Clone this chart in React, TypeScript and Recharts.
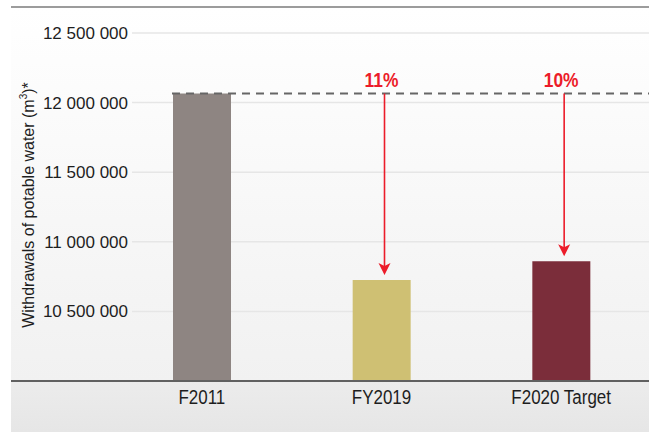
import { Bar, BarChart, CartesianGrid, Cell, ReferenceLine, XAxis, YAxis } from "recharts";

const categories = ["F2011", "FY2019", "F2020 Target"];
const withdrawals = [12065000, 10725000, 10860000];
const reductionLabels = ["", "11%", "10%"];
const barColors = ["#8e8582", "#cfc073", "#7b2d3a"];
const yTicks = [10500000, 11000000, 11500000, 12000000, 12500000];

const data = categories.map((name, i) => ({ name, value: withdrawals[i] }));
const baseline = withdrawals[0];

const sans = "'Liberation Sans', Arial, sans-serif";
const RED = "#ec1c2a";
const BAR_SIZE = 58;
const NARROW = 0.87;

const fmt = (v: number) => String(v).replace(/\B(?=(\d{3})+(?!\d))/g, " ");

function YTick(p: any) {
  return (
    <text x={p.x + 117} y={p.y} dy={6} textAnchor="end" fontFamily={sans} fontSize={17} fill="#1e1e1e">
      {fmt(p.payload.value)}
    </text>
  );
}

function XTick(p: any) {
  return (
    <g transform={`translate(${p.x},${p.y}) scale(${NARROW},1)`}>
      <text x={0} y={0} dy={16} textAnchor="middle" fontFamily={sans} fontSize={19.5} fill="#1e1e1e">
        {p.payload.value}
      </text>
    </g>
  );
}

function GridLine(p: any) {
  return <line key={p.key} x1={p.x1 + 121} x2={p.x2} y1={p.y1} y2={p.y2} stroke="#e6e6e6" strokeWidth={1.5} />;
}

function Arrow(label: string) {
  return (p: any) => {
    const x = p.x1 + 3;
    const tip = p.y2 - 5;
    return (
      <g>
        <g transform={`translate(${x - 3},${p.y1 - 7}) scale(${NARROW},1)`}>
          <text x={0} y={0} textAnchor="middle" fontFamily={sans} fontWeight="bold" fontSize={20} fill={RED}>
            {label}
          </text>
        </g>
        <line x1={x} x2={x} y1={p.y1} y2={tip - 8} stroke={RED} strokeWidth={1.6} />
        <path d={`M${x - 6},${tip - 12} L${x},${tip - 9} L${x + 6},${tip - 12} L${x},${tip} Z`} fill={RED} />
      </g>
    );
  };
}

function Dashed(p: any) {
  return (
    <line x1={p.x1 + 161} x2={p.x2} y1={p.y1} y2={p.y2} stroke="#666666" strokeWidth={2} strokeDasharray="8 6" />
  );
}

export default function App() {
  return (
    <div style={{ position: "absolute", left: 0, top: 0, width: 649, height: 432, overflow: "hidden", background: "#fff" }}>
      <div
        style={{
          position: "absolute",
          left: 11,
          top: 7,
          width: 638,
          height: 425,
          background: "linear-gradient(to bottom, #ffffff 0%, #f1f1f1 88%, #ececec 88%, #e6e6e6 100%)",
        }}
      />
      <div style={{ position: "absolute", left: 11, top: 6, width: 638, height: 1.5, background: "#9c9c9c" }} />
      <div style={{ position: "absolute", left: 0, top: 0 }}>
        <BarChart width={660} height={432} data={data} margin={{ top: 33, right: 9, left: 10, bottom: 21 }}>
          <CartesianGrid vertical={false} horizontal={GridLine} />
          <XAxis
            dataKey="name"
            height={30}
            padding={{ left: 101, right: 0 }}
            tickLine={false}
            tickSize={0}
            tickMargin={7}
            axisLine={{ stroke: "#616161", strokeWidth: 2 }}
            tick={XTick}
          />
          <YAxis
            width={1}
            domain={[10000000, 12500000]}
            ticks={yTicks}
            tickLine={false}
            axisLine={false}
            tickSize={0}
            tickMargin={0}
            tick={YTick}
          />
          <Bar dataKey="value" barSize={BAR_SIZE} isAnimationActive={false}>
            {data.map((d, i) => (
              <Cell key={d.name} fill={barColors[i]} />
            ))}
          </Bar>
          <ReferenceLine y={baseline} shape={Dashed} />
          {data.slice(1).map((d, i) => (
            <ReferenceLine
              key={d.name}
              segment={[
                { x: d.name, y: baseline },
                { x: d.name, y: d.value },
              ]}
              shape={Arrow(reductionLabels[i + 1])}
            />
          ))}
        </BarChart>
      </div>
      <div
        style={{
          position: "absolute",
          left: 28,
          top: 205,
          transform: "translate(-50%, -50%) rotate(-90deg)",
          whiteSpace: "nowrap",
          fontFamily: sans,
          fontSize: 16,
          color: "#1e1e1e",
        }}
      >
        Withdrawals of potable water (m<sup style={{ fontSize: 10 }}>3</sup>)*
      </div>
    </div>
  );
}
